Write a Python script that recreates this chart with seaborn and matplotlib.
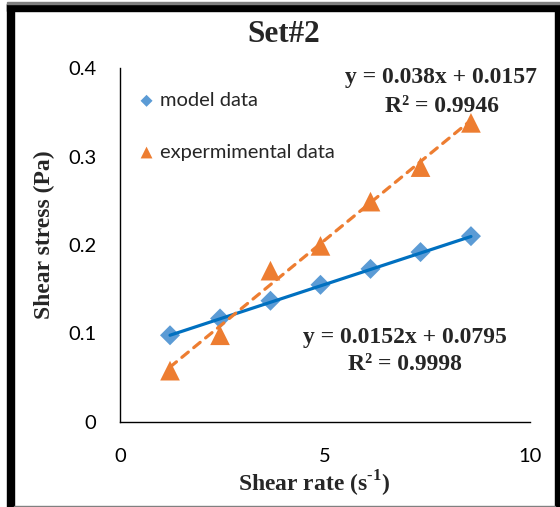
import matplotlib
matplotlib.use("Agg")
import matplotlib.pyplot as plt
import numpy as np
import pandas as pd
import seaborn as sns
from matplotlib.patches import Rectangle

# ---- data ----
shear_rate = [1.22, 2.44, 3.67, 4.89, 6.11, 7.33, 8.56]
model_stress = [0.098, 0.117, 0.137, 0.155, 0.173, 0.192, 0.210]
exp_stress = [0.058, 0.098, 0.171, 0.199, 0.249, 0.288, 0.338]

series_names = ["model data", "expermimental data"]
trend_slope = [0.0152, 0.038]
trend_intercept = [0.0795, 0.0157]
trend_r2 = [0.9998, 0.9946]

x_ticks = [0, 5, 10]
y_ticks = [0, 0.1, 0.2, 0.3, 0.4]

# ---- style ----
sns.set_theme(style="white")
plt.rcParams["font.family"] = ["Lato", "DejaVu Sans"]
plt.rcParams["mathtext.fontset"] = "custom"
plt.rcParams["mathtext.rm"] = "Liberation Serif:bold"
plt.rcParams["mathtext.bf"] = "Liberation Serif:bold"

BLUE_MARK = "#5B9BD5"
BLUE_LINE = "#0070C0"
ORANGE = "#ED7D31"
SERIF = ["Liberation Serif", "DejaVu Serif"]

W, H = 560, 507
fig = plt.figure(figsize=(W / 100, H / 100), dpi=100)
fig.patch.set_facecolor("white")
ax = fig.add_axes([120 / W, 1 - 422 / H, (530 - 120) / W, (422 - 68) / H])

df = pd.DataFrame({"rate": shear_rate, "model": model_stress, "exp": exp_stress})

# data points
sns.scatterplot(data=df, x="rate", y="model", marker="D", s=104, color=BLUE_MARK,
                edgecolor="none", label=series_names[0], ax=ax, zorder=3)
sns.scatterplot(data=df, x="rate", y="exp", marker="^", s=200, color=ORANGE,
                edgecolor="none", label=series_names[1], ax=ax, zorder=3)

# linear trendlines from the fitted coefficients
x_end = np.array([min(shear_rate), max(shear_rate)])
trend_model = pd.DataFrame({"rate": x_end, "fit": trend_slope[0] * x_end + trend_intercept[0]})
trend_exp = pd.DataFrame({"rate": x_end, "fit": trend_slope[1] * x_end + trend_intercept[1]})
sns.lineplot(data=trend_model, x="rate", y="fit", color=BLUE_LINE, lw=2.3,
             label="_nolegend_", ax=ax, zorder=4)
sns.lineplot(data=trend_exp, x="rate", y="fit", color=ORANGE, lw=2.3,
             label="_nolegend_", ax=ax, zorder=4,
             dashes=False)
ax.lines[-1].set_dashes([2.6, 2.2])
ax.lines[-1].set_dash_capstyle("round")

# axes
ax.set_xlim(0, 10)
ax.set_ylim(0, 0.4)
ax.set_xticks(x_ticks)
ax.set_yticks(y_ticks)
ax.set_xticklabels([f"{v:g}" for v in x_ticks])
ax.set_yticklabels([f"{v:g}" for v in y_ticks])
ax.tick_params(axis="both", length=0, labelsize=14.5, colors="black")
ax.tick_params(axis="y", pad=17)
ax.tick_params(axis="x", pad=19)
for side in ("top", "right"):
    ax.spines[side].set_visible(False)
for side in ("left", "bottom"):
    ax.spines[side].set_color("black")
    ax.spines[side].set_linewidth(1.0)
ax.set_xlabel("")
ax.set_ylabel("")
ax.set_facecolor("white")

# legend
leg = ax.legend(loc="upper left", bbox_to_anchor=(140 / W, 1 - 92 / H),
                bbox_transform=fig.transFigure, frameon=False, fontsize=14.5,
                markerscale=0.6, handlelength=0.65, handletextpad=0.33,
                labelspacing=1.72, borderpad=0, borderaxespad=0)

# titles and labels
fig.text(284 / W, 1 - 35 / H, "Set#2", family=SERIF, weight="bold", fontsize=22.5,
         ha="center", va="center")
fig.text(44 / W, 1 - 235 / H, "Shear stress (Pa)", family=SERIF, weight="bold",
         fontsize=17, rotation=90, ha="center", va="center")
fig.text(314 / W, 1 - 484 / H, r"Shear rate (s$^{\text{-}1}$)", family=SERIF,
         weight="bold", fontsize=17, ha="center", va="center")

# trendline equations
eq_pos = [((404.5, 338), (404.5, 365)), ((441, 77), (442, 106))]
for i in range(2):
    (ex, ey), (rx, ry) = eq_pos[i]
    fig.text(ex / W, 1 - ey / H, f"y = {trend_slope[i]}x + {trend_intercept[i]}",
             family=SERIF, weight="bold", fontsize=17, ha="center", va="center")
    fig.text(rx / W, 1 - ry / H, f"R\u00b2 = {trend_r2[i]}",
             family=SERIF, weight="bold", fontsize=17, ha="center", va="center")

# chart frame
frame = [
    Rectangle((7 / W, 0), 7 / W, 1 - 4 / H, color="black"),
    Rectangle((7 / W, 1 - 11 / H), 1 - 7 / W, 7 / H, color="black"),
    Rectangle((555 / W, 0), 5 / W, 1 - 4 / H, color="black"),
    Rectangle((7 / W, 1 - 4 / H), 1 - 7 / W, 1.5 / H, color="#808080"),
    Rectangle((14 / W, 1 - 507 / H), 541 / W, 1.5 / H, color="#808080"),
]
for r in frame:
    r.set_transform(fig.transFigure)
    fig.patches.append(r)

fig.savefig("out.png", dpi=100)
